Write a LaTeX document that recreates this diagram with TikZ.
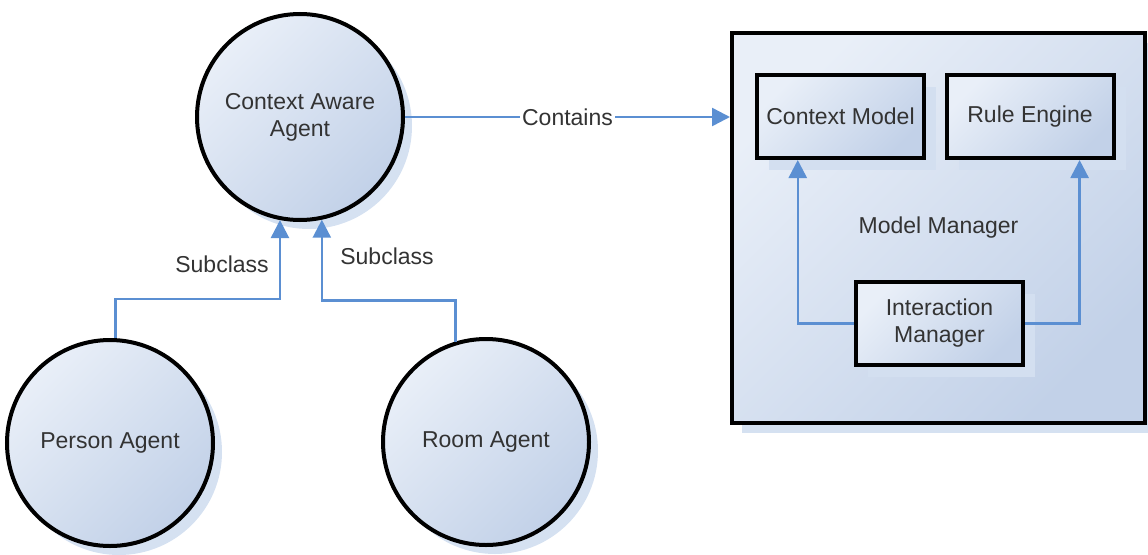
\documentclass[tikz,border=0pt]{standalone}
\usepackage{fontspec}
\setmainfont{Liberation Sans}
\usetikzlibrary{arrows.meta,shadows,calc}

\definecolor{fillA}{HTML}{E9EFF8}
\definecolor{fillB}{HTML}{C2D1E8}
\definecolor{shadowc}{HTML}{D5E1F1}
\definecolor{linkc}{HTML}{5B8FD2}
\definecolor{textc}{HTML}{333333}

\tikzset{
  base/.style={draw=black, line width=4pt, text=textc,
    top color=fillA, bottom color=fillB, shading angle=45,
    font=\fontsize{23}{27}\selectfont, align=center},
  agent/.style={base, circle, minimum size=206pt, inner sep=0pt,
    general shadow={fill=shadowc, shadow xshift=9pt, shadow yshift=-9pt}},
  box/.style={base, rectangle, minimum width=167pt, minimum height=83pt, inner sep=0pt,
    general shadow={fill=shadowc!90!fillB, shadow xshift=12pt, shadow yshift=-12pt}},
  frame/.style={base, rectangle, minimum width=413pt, minimum height=390pt, inner sep=0pt,
    general shadow={fill=shadowc, shadow xshift=10pt, shadow yshift=-10pt}},
  link/.style={draw=linkc, line width=2.5pt,
    -{Triangle[width=18pt,length=18pt]}},
  lbl/.style={text=textc, font=\fontsize{23}{27}\selectfont, inner sep=2pt}
}

\begin{document}
\begin{tikzpicture}[x=1pt,y=-1pt]
\useasboundingbox (0,0) rectangle (1148,554);

% agents
\node[agent] (caa) at (300,117) {Context Aware\\Agent};
\node[agent] (pa)  at (110,443) {Person Agent};
\node[agent] (ra)  at (486,442) {Room Agent};

% model manager with its parts
\node[frame] (mm) at (938.5,228) {Model Manager};
\node[box] (cm) at (840.5,116.5) {Context Model};
\node[box] (re) at (1030,116.5) {Rule Engine};
\node[box] (im) at (939.5,323.5) {Interaction\\Manager};

% subclass links
\draw[link] (pa.87) |- ($(caa.259)+(0,79)$) -- (caa.259);
\draw[link] (ra.107) |- ($(caa.282)+(0,81)$) -- (caa.282);
\node[lbl] (sub1) at (222,264) {Subclass};
\node[lbl] (sub2) at (387,256) {Subclass};

% containment
\draw[link] (caa.east) -- (mm.west |- caa.east)
  node[midway, fill=white, lbl] (cont) {Contains};

% interaction manager links
\coordinate (cmin) at ($(cm.south west)!0.25!(cm.south east)$);
\coordinate (rein) at ($(re.south west)!0.79!(re.south east)$);
\draw[link] (im.west) -| (cmin);
\draw[link] (im.east) -| (rein);
\end{tikzpicture}
\end{document}
